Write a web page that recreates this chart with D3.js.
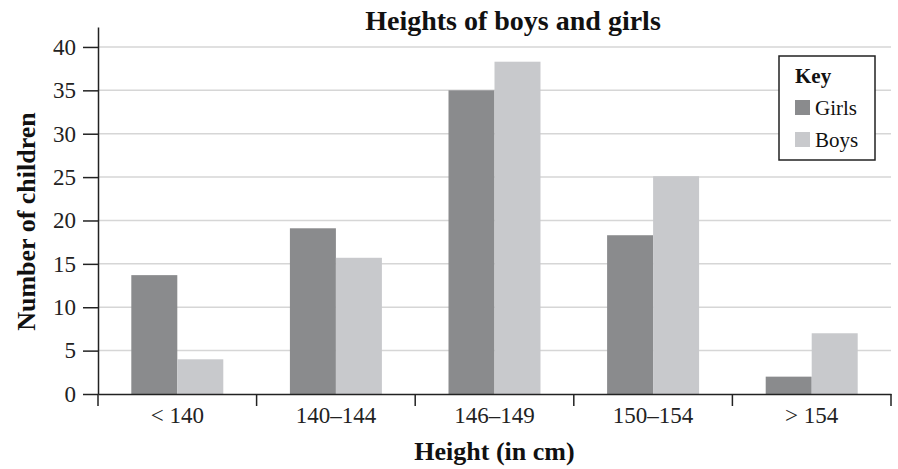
<!DOCTYPE html>
<html lang="en">
<head>
    <meta charset="UTF-8">
    <title>Heights of boys and girls</title>
    <script src="https://cdn.jsdelivr.net/npm/d3@7"></script>
    <style>
        body { margin: 0; background: #fff; }
        svg { display: block; font-family: "Liberation Serif", "Times New Roman", serif; }
    </style>
</head>
<body>
<svg width="898" height="469"></svg>
<script>
    // data
    var categories = ["< 140", "140–144", "146–149", "150–154", "> 154"];
    var girls = [13.7, 19.1, 35, 18.3, 2];
    var boys = [4, 15.7, 38.3, 25.1, 7];
    var seriesNames = ["Girls", "Boys"];
    var yTicks = [0, 5, 10, 15, 20, 25, 30, 35, 40];

    var data = categories.map(function(c, i){
        return { cat: c, Girls: girls[i], Boys: boys[i] };
    });

    var svg = d3.select('svg'),
        plotLeft = 98, plotRight = 891, plotBottom = 394, plotTop = 27;

    var colors = { Girls: "#8a8b8d", Boys: "#c8c9cc" };

    // scales
    var x = d3.scaleBand().range([plotLeft, plotRight]).padding(0).domain(categories);
    var bw = x.bandwidth();
    var x1 = d3.scaleBand().range([bw * 0.21, bw * 0.79]).padding(0).domain(seriesNames);
    var y = d3.scaleLinear().range([plotBottom, plotTop]).domain([0, 42.3]);

    // grid lines
    svg.append('g')
        .selectAll('line')
        .data(yTicks.filter(function(d){ return d > 0; }))
        .enter().append('line')
        .attr('x1', plotLeft).attr('x2', plotRight)
        .attr('y1', function(d){ return y(d); })
        .attr('y2', function(d){ return y(d); })
        .attr('stroke', '#d6d6d6')
        .attr('stroke-width', 1.5);

    // bars
    svg.append('g')
        .selectAll('g')
        .data(data)
        .enter().append('g')
        .attr('transform', function(d){ return 'translate(' + x(d.cat) + ',0)'; })
        .selectAll('rect')
        .data(function(d){ return seriesNames.map(function(k){ return { key: k, value: d[k] }; }); })
        .enter().append('rect')
        .attr('x', function(d){ return x1(d.key); })
        .attr('y', function(d){ return y(d.value); })
        .attr('width', x1.bandwidth())
        .attr('height', function(d){ return y(0) - y(d.value); })
        .attr('fill', function(d){ return colors[d.key]; });

    // y axis
    var yAxis = svg.append('g')
        .attr('transform', 'translate(' + plotLeft + ',0)')
        .call(d3.axisLeft(y).tickValues(yTicks).tickSize(15).tickSizeOuter(0).tickPadding(7));
    yAxis.selectAll('text')
        .attr('font-size', '23px')
        .attr('font-family', '"Liberation Serif", serif')
        .attr('fill', '#222');
    yAxis.selectAll('line').attr('stroke', '#222').attr('stroke-width', 1.5);
    yAxis.select('.domain').attr('stroke', '#222').attr('stroke-width', 1.5);

    // x axis
    var xAxis = svg.append('g')
        .attr('transform', 'translate(0,' + plotBottom + ')')
        .call(d3.axisBottom(x).tickSize(0).tickSizeOuter(0).tickPadding(13));
    xAxis.select('.domain').attr('stroke', '#222').attr('stroke-width', 1.5);
    xAxis.selectAll('text')
        .attr('font-size', '23px')
        .attr('font-family', '"Liberation Serif", serif')
        .attr('fill', '#222');
    // category boundary ticks
    xAxis.selectAll('line.bound')
        .data(categories.map(function(c){ return x(c); }).concat([plotRight]))
        .enter().append('line')
        .attr('class', 'bound')
        .attr('x1', function(d){ return d; })
        .attr('x2', function(d){ return d; })
        .attr('y1', 0).attr('y2', 12)
        .attr('stroke', '#222')
        .attr('stroke-width', 1.5);

    // title
    svg.append('text')
        .attr('x', 513).attr('y', 30)
        .attr('text-anchor', 'middle')
        .attr('font-size', '28px')
        .attr('font-weight', 'bold')
        .attr('fill', '#111')
        .text('Heights of boys and girls');

    // axis titles
    svg.append('text')
        .attr('transform', 'translate(35,' + ((plotTop + plotBottom) / 2 + 11) + ') rotate(-90)')
        .attr('text-anchor', 'middle')
        .attr('font-size', '26px')
        .attr('font-weight', 'bold')
        .attr('fill', '#111')
        .text('Number of children');
    svg.append('text')
        .attr('x', (plotLeft + plotRight) / 2).attr('y', 460)
        .attr('text-anchor', 'middle')
        .attr('font-size', '26px')
        .attr('font-weight', 'bold')
        .attr('fill', '#111')
        .text('Height (in cm)');

    // legend
    var legend = svg.append('g').attr('transform', 'translate(779,56)');
    legend.append('rect')
        .attr('width', 96).attr('height', 104)
        .attr('fill', '#fff')
        .attr('stroke', '#222')
        .attr('stroke-width', 1.5);
    legend.append('text')
        .attr('x', 16).attr('y', 27)
        .attr('font-size', '21px')
        .attr('font-weight', 'bold')
        .attr('fill', '#111')
        .text('Key');
    var items = legend.selectAll('g.item')
        .data(seriesNames)
        .enter().append('g')
        .attr('class', 'item')
        .attr('transform', function(d, i){ return 'translate(16,' + (44 + i * 32) + ')'; });
    items.append('rect')
        .attr('width', 15).attr('height', 15)
        .attr('fill', function(d){ return colors[d]; });
    items.append('text')
        .attr('x', 20).attr('y', 15)
        .attr('font-size', '21px')
        .attr('fill', '#111')
        .text(function(d){ return d; });
</script>
</body>
</html>
